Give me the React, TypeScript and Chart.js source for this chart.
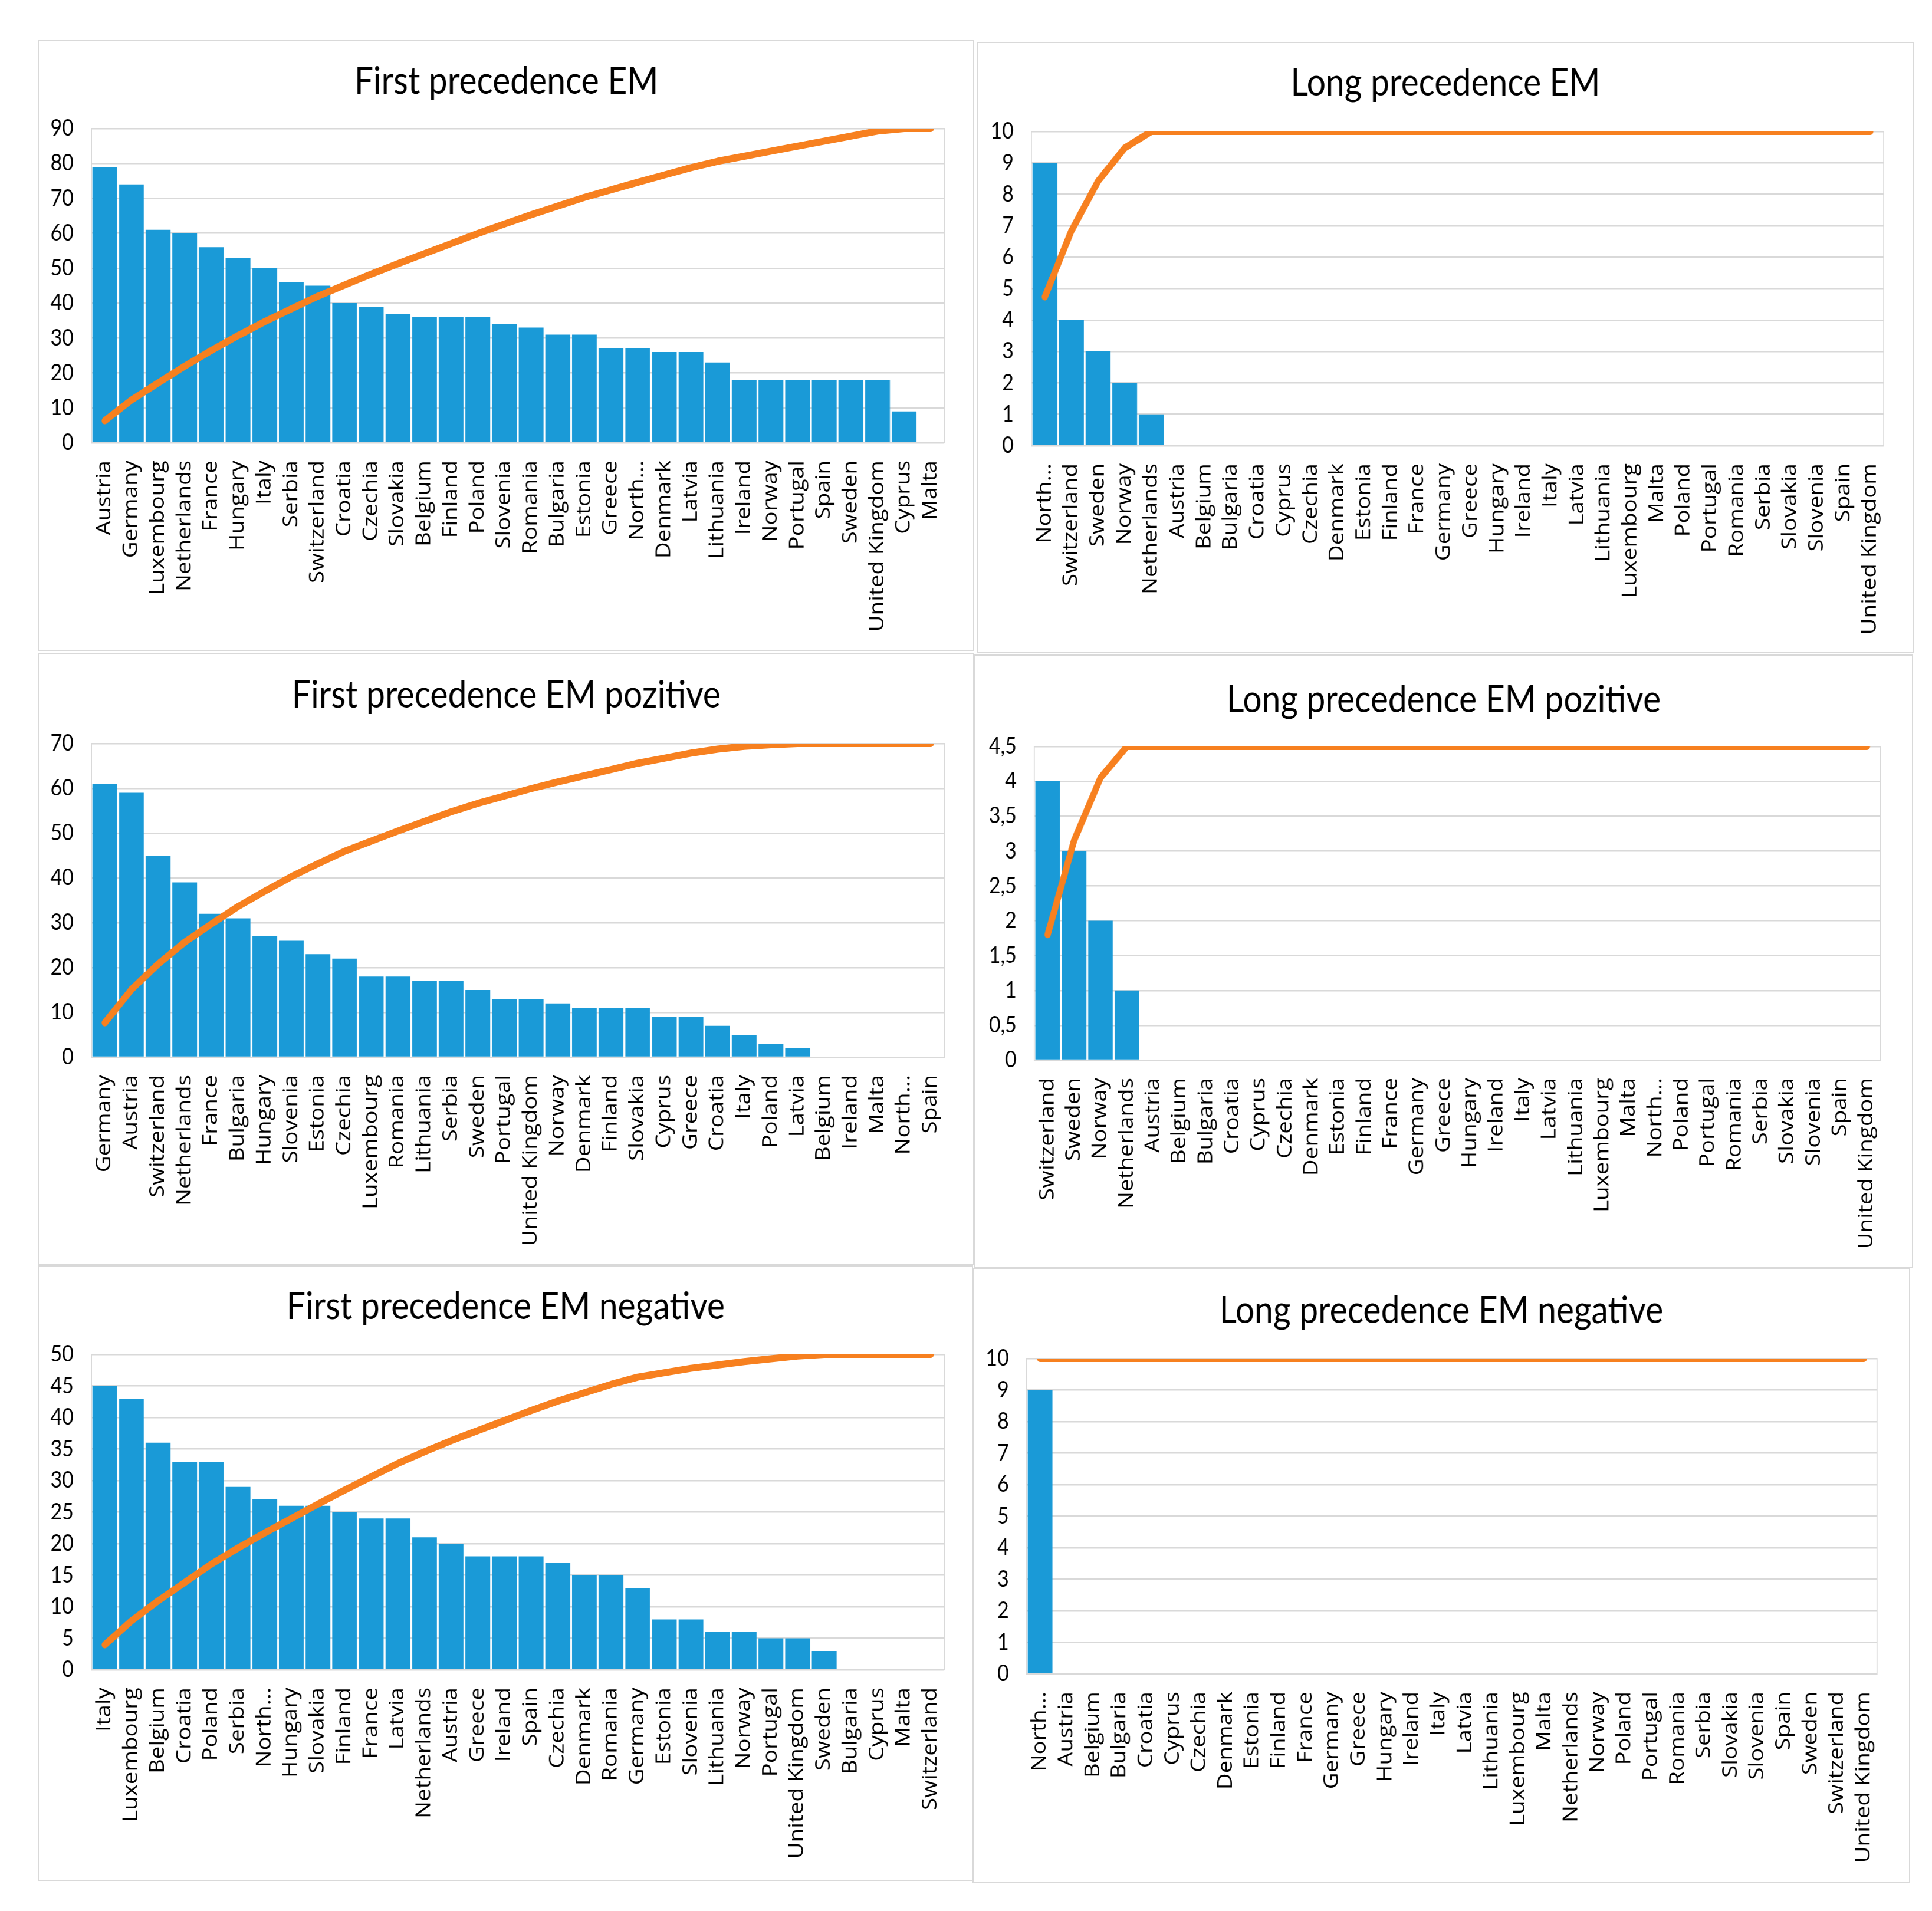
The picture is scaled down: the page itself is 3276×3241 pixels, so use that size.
import { useEffect, useRef } from "react";
import { Chart, registerables } from "chart.js";

Chart.register(...registerables);

// ---- data ----
const fpCountries = ["Austria", "Germany", "Luxembourg", "Netherlands", "France", "Hungary", "Italy", "Serbia", "Switzerland", "Croatia", "Czechia", "Slovakia", "Belgium", "Finland", "Poland", "Slovenia", "Romania", "Bulgaria", "Estonia", "Greece", "North...", "Denmark", "Latvia", "Lithuania", "Ireland", "Norway", "Portugal", "Spain", "Sweden", "United Kingdom", "Cyprus", "Malta"];
const fpValues = [79, 74, 61, 60, 56, 53, 50, 46, 45, 40, 39, 37, 36, 36, 36, 34, 33, 31, 31, 27, 27, 26, 26, 23, 18, 18, 18, 18, 18, 18, 9, 0];

const lpCountries = ["North...", "Switzerland", "Sweden", "Norway", "Netherlands", "Austria", "Belgium", "Bulgaria", "Croatia", "Cyprus", "Czechia", "Denmark", "Estonia", "Finland", "France", "Germany", "Greece", "Hungary", "Ireland", "Italy", "Latvia", "Lithuania", "Luxembourg", "Malta", "Poland", "Portugal", "Romania", "Serbia", "Slovakia", "Slovenia", "Spain", "United Kingdom"];
const lpValues = [9, 4, 3, 2, 1, 0, 0, 0, 0, 0, 0, 0, 0, 0, 0, 0, 0, 0, 0, 0, 0, 0, 0, 0, 0, 0, 0, 0, 0, 0, 0, 0];

const fppCountries = ["Germany", "Austria", "Switzerland", "Netherlands", "France", "Bulgaria", "Hungary", "Slovenia", "Estonia", "Czechia", "Luxembourg", "Romania", "Lithuania", "Serbia", "Sweden", "Portugal", "United Kingdom", "Norway", "Denmark", "Finland", "Slovakia", "Cyprus", "Greece", "Croatia", "Italy", "Poland", "Latvia", "Belgium", "Ireland", "Malta", "North...", "Spain"];
const fppValues = [61, 59, 45, 39, 32, 31, 27, 26, 23, 22, 18, 18, 17, 17, 15, 13, 13, 12, 11, 11, 11, 9, 9, 7, 5, 3, 2, 0, 0, 0, 0, 0];

const lppCountries = ["Switzerland", "Sweden", "Norway", "Netherlands", "Austria", "Belgium", "Bulgaria", "Croatia", "Cyprus", "Czechia", "Denmark", "Estonia", "Finland", "France", "Germany", "Greece", "Hungary", "Ireland", "Italy", "Latvia", "Lithuania", "Luxembourg", "Malta", "North...", "Poland", "Portugal", "Romania", "Serbia", "Slovakia", "Slovenia", "Spain", "United Kingdom"];
const lppValues = [4, 3, 2, 1, 0, 0, 0, 0, 0, 0, 0, 0, 0, 0, 0, 0, 0, 0, 0, 0, 0, 0, 0, 0, 0, 0, 0, 0, 0, 0, 0, 0];

const fpnCountries = ["Italy", "Luxembourg", "Belgium", "Croatia", "Poland", "Serbia", "North...", "Hungary", "Slovakia", "Finland", "France", "Latvia", "Netherlands", "Austria", "Greece", "Ireland", "Spain", "Czechia", "Denmark", "Romania", "Germany", "Estonia", "Slovenia", "Lithuania", "Norway", "Portugal", "United Kingdom", "Sweden", "Bulgaria", "Cyprus", "Malta", "Switzerland"];
const fpnValues = [45, 43, 36, 33, 33, 29, 27, 26, 26, 25, 24, 24, 21, 20, 18, 18, 18, 17, 15, 15, 13, 8, 8, 6, 6, 5, 5, 3, 0, 0, 0, 0];

const lpnCountries = ["North...", "Austria", "Belgium", "Bulgaria", "Croatia", "Cyprus", "Czechia", "Denmark", "Estonia", "Finland", "France", "Germany", "Greece", "Hungary", "Ireland", "Italy", "Latvia", "Lithuania", "Luxembourg", "Malta", "Netherlands", "Norway", "Poland", "Portugal", "Romania", "Serbia", "Slovakia", "Slovenia", "Spain", "Sweden", "Switzerland", "United Kingdom"];
const lpnValues = [9, 0, 0, 0, 0, 0, 0, 0, 0, 0, 0, 0, 0, 0, 0, 0, 0, 0, 0, 0, 0, 0, 0, 0, 0, 0, 0, 0, 0, 0, 0, 0];

const BAR_COLOR = "#1A9AD7";
const LINE_COLOR = "#F7801F";
const GRID_COLOR = "#D9D9D9";
const TEXT_COLOR = "#000000";
const SQUEEZE = 0.89; // the source figure is slightly compressed horizontally

// pareto line: running share of the total
function cumulativeShare(values: number[]) {
  const total = values.reduce((a, b) => a + b, 0);
  let run = 0;
  return values.map((v) => {
    run += v;
    return run / total;
  });
}

interface PanelBox {
  x: number; y: number; w: number; h: number;
  left: number; right: number; top: number; bottom: number; titleY: number;
}

interface ParetoProps {
  title: string;
  labels: string[];
  values: number[];
  max: number;
  step: number;
  box: PanelBox;
}

function ParetoPanel({ title, labels, values, max, step, box }: ParetoProps) {
  const canvasRef = useRef<HTMLCanvasElement>(null);
  const chartRef = useRef<Chart | null>(null);
  const border = 2;

  useEffect(() => {
    if (!canvasRef.current) return;
    chartRef.current?.destroy();

    const titleSize = 64;
    const titleLine = titleSize * 1.2;
    const padTop = box.titleY - border + 3 - titleLine / 2;
    const padBottom = box.top - border - padTop - titleLine;

    chartRef.current = new Chart(canvasRef.current, {
      type: "bar",
      data: {
        labels,
        datasets: [
          {
            type: "line",
            data: cumulativeShare(values),
            yAxisID: "y1",
            borderColor: LINE_COLOR,
            borderWidth: 12,
            borderCapStyle: "round",
            borderJoinStyle: "round",
            pointRadius: 0,
            tension: 0,
            order: 0,
          },
          {
            type: "bar",
            data: values,
            yAxisID: "y",
            backgroundColor: BAR_COLOR,
            barPercentage: 0.93,
            categoryPercentage: 1,
            order: 1,
          },
        ],
      } as any,
      options: {
        animation: false,
        responsive: true,
        maintainAspectRatio: false,
        layout: { padding: 0 },
        plugins: {
          legend: { display: false },
          tooltip: { enabled: false },
          title: {
            display: true,
            text: title,
            color: TEXT_COLOR,
            font: { family: "Lato", size: titleSize, weight: "normal", lineHeight: 1.2 },
            padding: { top: padTop, bottom: padBottom },
          },
        },
        scales: {
          x: {
            grid: { display: false, drawTicks: false },
            border: { display: false },
            ticks: {
              autoSkip: false,
              maxRotation: 90,
              minRotation: 90,
              padding: 30,
              color: TEXT_COLOR,
              font: { family: "'Open Sans'", size: 38.5 },
            },
            afterFit: (s: any) => { s.height = box.bottom - border; },
          },
          y: {
            position: "left",
            min: 0,
            max,
            ticks: {
              stepSize: step,
              padding: 34,
              color: TEXT_COLOR,
              font: { family: "Lato", size: 38 },
              callback: (v: any) => String(v).replace(".", ","),
            },
            grid: { color: GRID_COLOR, lineWidth: 2.5, drawTicks: false },
            border: { display: true, color: GRID_COLOR, width: 2 },
            afterFit: (s: any) => { s.width = (box.left - border) / SQUEEZE; },
          },
          y1: {
            position: "right",
            min: 0,
            max: 1,
            ticks: { display: false },
            grid: { display: false, drawTicks: false },
            border: { display: true, color: GRID_COLOR, width: 2 },
            afterFit: (s: any) => { s.width = (box.right - border) / SQUEEZE; },
          },
        },
      } as any,
    });

    return () => {
      chartRef.current?.destroy();
      chartRef.current = null;
    };
  }, [title, labels, values, max, step, box]);

  const innerW = box.w - border * 2;
  const innerH = box.h - border * 2;

  return (
    <div
      style={{
        position: "absolute",
        left: box.x,
        top: box.y,
        width: box.w,
        height: box.h,
        boxSizing: "border-box",
        border: `${border}px solid ${GRID_COLOR}`,
        background: "#fff",
        overflow: "hidden",
      }}
    >
      <div
        style={{
          position: "absolute",
          left: 0,
          top: 0,
          width: innerW / SQUEEZE,
          height: innerH,
          transform: `scaleX(${SQUEEZE})`,
          transformOrigin: "0 0",
        }}
      >
        <canvas ref={canvasRef} />
      </div>
    </div>
  );
}

const boxTL: PanelBox = { x: 64, y: 68, w: 1588, h: 1036, left: 91, right: 52, top: 150, bottom: 353, titleY: 67 };
const boxTR: PanelBox = { x: 1656, y: 71, w: 1589, h: 1037, left: 93, right: 52, top: 152, bottom: 352, titleY: 67 };
const boxML: PanelBox = { x: 64, y: 1107, w: 1588, h: 1038, left: 91, right: 52, top: 154, bottom: 352, titleY: 69 };
const boxMR: PanelBox = { x: 1652, y: 1110, w: 1592, h: 1041, left: 102, right: 56, top: 156, bottom: 353, titleY: 74 };
const boxBL: PanelBox = { x: 64, y: 2146, w: 1586, h: 1044, left: 91, right: 50, top: 151, bottom: 358, titleY: 67 };
const boxBR: PanelBox = { x: 1649, y: 2150, w: 1590, h: 1043, left: 92, right: 56, top: 154, bottom: 354, titleY: 70 };

export default function App() {
  return (
    <div style={{ position: "absolute", left: 0, top: 0, width: 3276, height: 3241, background: "#fff" }}>
      <ParetoPanel title="First precedence EM" labels={fpCountries} values={fpValues} max={90} step={10} box={boxTL} />
      <ParetoPanel title="Long precedence EM" labels={lpCountries} values={lpValues} max={10} step={1} box={boxTR} />
      <ParetoPanel title="First precedence EM pozitive" labels={fppCountries} values={fppValues} max={70} step={10} box={boxML} />
      <ParetoPanel title="Long precedence EM pozitive" labels={lppCountries} values={lppValues} max={4.5} step={0.5} box={boxMR} />
      <ParetoPanel title="First precedence EM negative" labels={fpnCountries} values={fpnValues} max={50} step={5} box={boxBL} />
      <ParetoPanel title="Long precedence EM negative" labels={lpnCountries} values={lpnValues} max={10} step={1} box={boxBR} />
    </div>
  );
}
